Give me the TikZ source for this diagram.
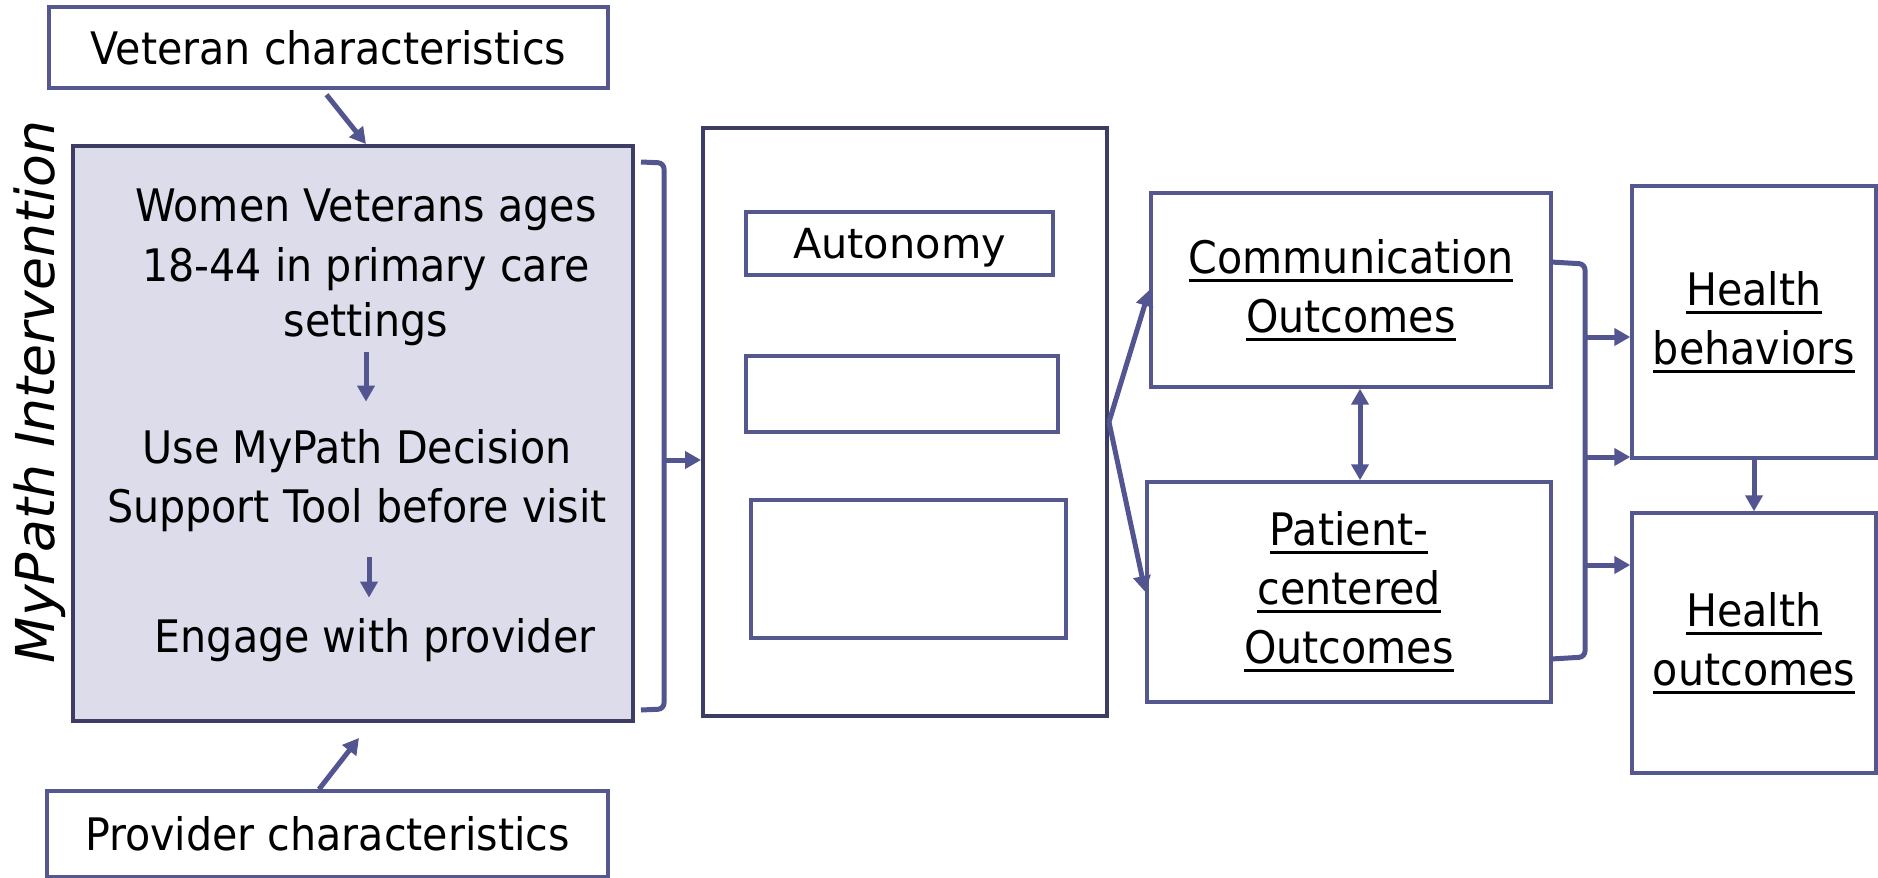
\documentclass[tikz,border=0pt]{standalone}
\usepackage{fontspec}
\usetikzlibrary{arrows.meta,calc}
\newfontfamily\tahf[FakeStretch=0.92]{DejaVu Sans}
\newfontfamily\verdf{DejaVu Sans}
\definecolor{bord}{HTML}{55578F}
\definecolor{dbord}{HTML}{3C3C64}
\definecolor{lav}{HTML}{DCDCEA}
\definecolor{arrc}{HTML}{535590}
\newcommand\myul[1]{\leavevmode\setbox0=\hbox{#1}\rlap{\rule[-0.19em]{\wd0}{1.8pt}}\box0}
\tikzset{
  box/.style={draw=bord, line width=0.07cm, fill=white, inner sep=0pt, align=center,
    font=\tahf\fontsize{25.5pt}{33.5pt}\selectfont},
  dbox/.style={box, draw=dbord, line width=0.08cm},
  txt/.style={inner sep=0pt, font=\tahf\fontsize{25.5pt}{33.5pt}\selectfont, anchor=base},
  arr/.style={draw=arrc, line width=0.1cm, -{Triangle[width=0.34cm,length=0.32cm]}},
  darr/.style={draw=arrc, line width=0.1cm, {Triangle[width=0.34cm,length=0.32cm]}-{Triangle[width=0.34cm,length=0.32cm]}},
  brk/.style={draw=arrc, line width=0.1cm, rounded corners=0.12cm},
}
\begin{document}
\begin{tikzpicture}[x=0.02cm, y=-0.02cm]
\fill[white] (0,0) rectangle (1878,878);
\useasboundingbox (0,0) rectangle (1878,878);

% left column
\node[box, minimum width=11.18cm, minimum height=1.62cm] (vet) at (328.5,47.5) {Veteran characteristics};
\node[dbox, fill=lav, minimum width=11.2cm, minimum height=11.5cm] (main) at (353,433.5) {};
\node[box, minimum width=11.22cm, minimum height=1.72cm] (prov) at (327.5,834) {Provider characteristics};

\node[txt] (t1a) at (366,222) {Women Veterans ages};
\node[txt] (t1b) at (366,282) {18-44 in primary care};
\node[txt] (t1c) at (366,337) {settings};
\node[txt] (t2a) at (357,463) {Use MyPath Decision};
\node[txt] (t2b) at (357,522) {Support Tool before visit};
\node[txt] (t3) at (375,652) {Engage with provider};

\node[inner sep=0pt, rotate=90, anchor=base, font=\verdf\itshape\fontsize{30.5pt}{36pt}\selectfont] (lbl) at (54,392) {MyPath Intervention};

\coordinate (ax2) at (369,0);
\draw[arr, shorten <=0.11cm, shorten >=0.54cm] (t1c.south) -- (t1c.south |- t2a.north);
\draw[arr, shorten <=0.51cm, shorten >=0.4cm] (t2b.south -| ax2) -- (t3.north -| ax2);

\draw[arr] ($(vet.south)+(-2,5)$) -- ($(main.north)+(13,0)$);
\draw[arr] ($(prov.north)+(-8.5,0)$) -- ($(main.south)+(6,15)$);

% middle
\node[dbox, minimum width=8.08cm, minimum height=11.76cm] (mid) at (905,422) {};
\node[box, minimum width=6.14cm, minimum height=1.26cm, text depth=0pt,
  font=\verdf\fontsize{23.6pt}{28pt}\selectfont] (aut) at (899.5,243.5) {Autonomy};
\node[box, minimum width=6.24cm, minimum height=1.52cm] (b2) at (902,394) {};
\node[box, minimum width=6.3cm, minimum height=2.76cm] (b3) at (908.5,569) {};

\draw[brk] (641,162) -- (664,163) -- (664,709) -- (641,710);
\coordinate (b1) at (664,460);
\draw[arr] (b1) -- (b1 -| mid.west);

% right
\node[box, minimum width=8cm, minimum height=3.88cm] (comm) at (1351,290) {\myul{Communication}\\\myul{Outcomes}};
\node[box, minimum width=8.08cm, minimum height=4.4cm] (pat) at (1349,592) {\myul{Patient-}\\\myul{centered}\\\myul{Outcomes}};
\node[box, minimum width=4.88cm, minimum height=5.44cm] (hb) at (1754,322) {\myul{Health}\\\myul{behaviors}};
\node[box, minimum width=4.88cm, minimum height=5.2cm] (ho) at (1754,643) {\myul{Health}\\\myul{outcomes}};

\draw[arr] (mid.east) -- (comm.west);
\draw[arr] (mid.east) -- (pat.west);
\coordinate (dx) at (1360,0);
\draw[darr] (comm.south -| dx) -- (pat.north -| dx);

\draw[brk] (1551,262) -- (1585,264) -- (1585,657) -- (1551,659);
\coordinate (r1) at (1585,337);
\coordinate (r2) at (1585,457);
\coordinate (r3) at (1585,565);
\draw[arr] (r1) -- (r1 -| hb.west);
\draw[arr] (r2) -- (r2 -| hb.west);
\draw[arr] (r3) -- (r3 -| ho.west);
\draw[arr] (hb.south) -- (ho.north);
\end{tikzpicture}
\end{document}
